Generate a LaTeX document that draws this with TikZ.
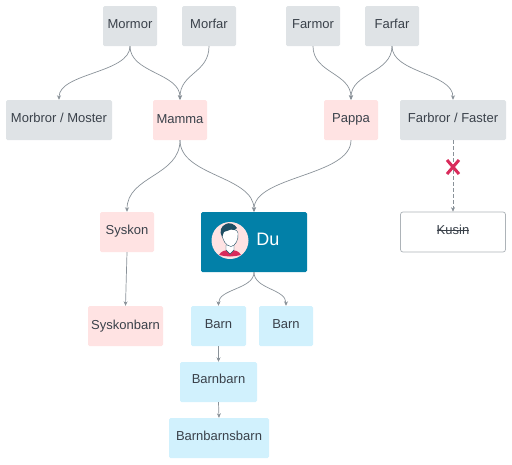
\documentclass[tikz,border=0pt]{standalone}
\usepackage{fontspec}
\setmainfont{Liberation Sans}
\usetikzlibrary{arrows.meta}
\definecolor{txt}{HTML}{3A414A}
\definecolor{gry}{HTML}{DFE3E6}
\definecolor{pnk}{HTML}{FFE3E3}
\definecolor{blu}{HTML}{D1F1FD}
\definecolor{teal1}{HTML}{0280A8}
\definecolor{lin}{HTML}{8A9299}
\definecolor{crim}{HTML}{D92B5B}
\definecolor{hair}{HTML}{1F4E63}
\newsavebox{\strikebox}
\newcommand{\strikeout}[1]{\sbox{\strikebox}{#1}\rlap{\usebox{\strikebox}}\rule[3.6pt]{\wd\strikebox}{0.6pt}}
\newcommand{\lift}[2]{\raisebox{#1}[0pt][0pt]{#2}}
\tikzset{
  box/.style={rounded corners=1.5pt,text=txt,font=\fontsize{13}{15}\selectfont,inner sep=0pt,minimum height=40pt,text height=9.3pt,text depth=2.7pt},
  gbox/.style={box,fill=gry},
  pbox/.style={box,fill=pnk},
  bbox/.style={box,fill=blu},
  conn/.style={draw=lin,line width=.7pt,-{Stealth[length=4.5pt,width=4pt,fill=txt!85]}},
  sc/.style={out=-90,in=90,distance=#1},
  sc/.default=27pt
}
\begin{document}
\begin{tikzpicture}[x=1pt,y=-1pt]
\useasboundingbox (0,0) rectangle (512,464);
\node[gbox,minimum width=54pt] (mormor) at (130,26) {\lift{1pt}{Mormor}};
\node[gbox,minimum width=54pt] (morfar) at (209,26) {\lift{1pt}{Morfar}};
\node[gbox,minimum width=54pt] (farmor) at (313,26) {\lift{1pt}{Farmor}};
\node[gbox,minimum width=54pt] (farfar) at (392,26) {\lift{1pt}{Farfar}};
\node[gbox,minimum width=106pt] (morbror) at (59,120) {\lift{.65pt}{Morbror / Moster}};
\node[pbox,minimum width=54pt] (mamma) at (180,120) {\lift{-.35pt}{Mamma}};
\node[pbox,minimum width=54pt] (pappa) at (351,120) {\lift{.65pt}{Pappa}};
\node[gbox,minimum width=106pt] (farbror) at (453,120) {\lift{1pt}{Farbror / Faster}};
\node[pbox,minimum width=54pt] (syskon) at (127,232) {\lift{1.1pt}{Syskon}};
\node[box,fill=teal1,minimum width=106pt,minimum height=60pt] (du) at (254,242) {};
\node[box,draw=lin!70,fill=white,line width=.7pt,rounded corners=2.5pt,minimum width=105pt] (kusin) at (453,232) {\lift{.65pt}{\strikeout{Kusin}}};
\node[pbox,minimum width=75pt] (syskonbarn) at (125.5,326) {Syskonbarn};
\node[bbox,minimum width=55pt] (barn1) at (218.5,326) {\lift{1pt}{Barn}};
\node[bbox,minimum width=54pt] (barn2) at (286,326) {\lift{1pt}{Barn}};
\node[bbox,minimum width=77pt] (barnbarn) at (218.5,382) {\lift{1.35pt}{Barnbarn}};
\node[bbox,minimum width=100pt] (bbb) at (219,438) {\lift{1pt}{Barnbarnsbarn}};
\node[text=white,font=\fontsize{18}{20}\selectfont,inner sep=0pt] (dulabel) at (268,239) {Du};
% avatar
\node[circle,fill=pnk,minimum size=37pt,inner sep=0pt] (avatar) at (230,240.5) {};
\begin{scope}
\clip (avatar.center) circle (18.5pt);
\fill[crim] (219,255) .. controls (221,251) and (225,250) .. (230,250) .. controls (235,250) and (239,251) .. (241,255) .. controls (236,256) and (233,256.5) .. (230,256.5) .. controls (227,256.5) and (224,256) .. (219,255) -- cycle;
\fill[white,draw=hair,line width=.4pt] (226,245) -- (234,245) -- (234,250) -- (230,254) -- (226,250) -- cycle;
\fill[white,draw=hair,line width=.4pt] (222,233) .. controls (222,228) and (237,227) .. (238,233) .. controls (239,240) and (235,246) .. (231,246.5) .. controls (226,246) and (222,240) .. (222,233) -- cycle;
\fill[hair] (222,237) .. controls (219,231) and (221,226) .. (226,224) .. controls (229,222) and (235,224) .. (237,228) .. controls (236,230) and (233,231) .. (231,229.5) .. controls (229,231) and (225,231) .. (224,232) .. controls (223,234) and (223,235) .. (222,237) -- cycle;
\end{scope}
% connectors
\draw[conn] (mormor.south) to[sc] (morbror.north);
\draw[conn] (mormor.south) to[sc] (mamma.north);
\draw[conn] (morfar.south) to[sc] (mamma.north);
\draw[conn] (farmor.south) to[sc] (pappa.north);
\draw[conn] (farfar.south) to[sc] (pappa.north);
\draw[conn] (farfar.south) to[sc] (farbror.north);
\draw[conn] (mamma.south) to[sc=36pt] (syskon.north);
\draw[conn] (mamma.south) to[sc=36pt] (du.north);
\draw[conn] (pappa.south) to[sc=36pt] (du.north);
\draw[conn] (du.south) to[sc=17pt] (barn1.north);
\draw[conn] (du.south) to[sc=17pt] (barn2.north);
\draw[conn] (syskon.south) -- (syskonbarn.north);
\draw[conn] (barn1.south) -- (barnbarn.north);
\draw[conn] (barnbarn.south) -- (bbb.north);
\draw[conn,dash pattern=on 4pt off 2pt] (farbror.south) -- (kusin.north);
\coordinate (xc) at (453,167);
\draw[crim,line width=3pt] ([shift={(-6,-7)}]xc) -- ([shift={(6,7)}]xc);
\draw[crim,line width=3pt] ([shift={(6,-7)}]xc) -- ([shift={(-6,7)}]xc);
\end{tikzpicture}
\end{document}
